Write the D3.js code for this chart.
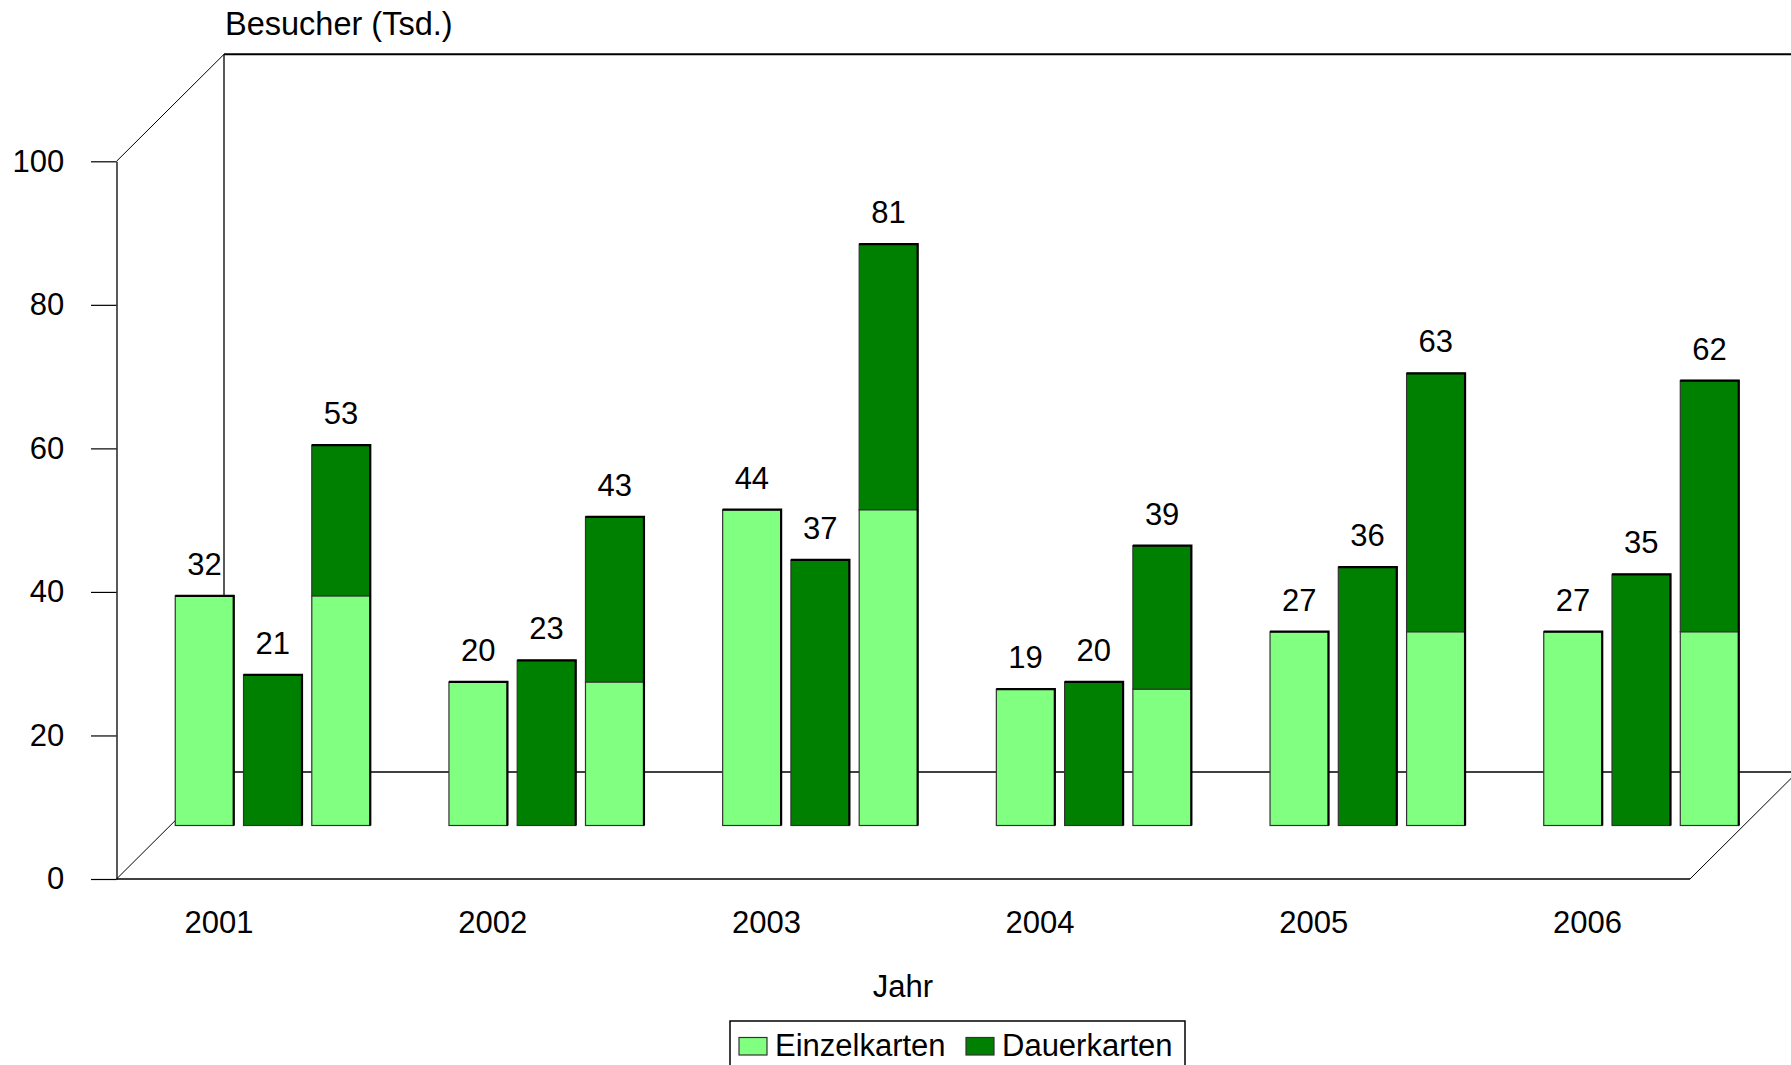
<!DOCTYPE html>
<html>
<head>
<meta charset="utf-8">
<script src="https://cdn.jsdelivr.net/npm/d3@7"></script>
<style>
  html, body { margin: 0; padding: 0; background: #fff; overflow: hidden; }
  svg text { font-family: "Liberation Sans", Arial, sans-serif; fill: #000; }
</style>
</head>
<body>
<svg id="chart" width="1791" height="1065"></svg>
<script>
// Besucher je Jahr: Einzelkarten, Dauerkarten, und beide gestapelt.
const YEARS = ["2001", "2002", "2003", "2004", "2005", "2006"];
const EINZEL = [32, 20, 44, 19, 27, 27];
const DAUER = [21, 23, 37, 20, 36, 35];
const Y_TICKS = [0, 20, 40, 60, 80, 100];
const SERIES = ["Einzelkarten", "Dauerkarten"];
const COLORS = ["#80ff80", "#008000"];

const W = 1791, H = 1065;
const AX_X = 116.5, FLOOR_R = 1690;      // front plane, left / right
const Y0 = 879, Y100 = 161.3;            // front plane, value 0 / 100
const DX = 107.5, DY = 107;              // depth offset to the back wall
const FONT = "31px 'Liberation Sans', Arial, sans-serif";

const svg = d3.select("#chart");

const y = d3.scaleLinear().domain([0, 100]).range([Y0, Y100]);
// bars stand half way into the depth; x is measured on that middle plane
const x = d3.scaleBand().domain(YEARS)
  .range([AX_X + DX / 2 + 5, FLOOR_R + DX / 2 - 5])
  .paddingInner(0.2875);
const inner = d3.scaleBand().domain(["einzel", "dauer", "summe"])
  .range([0, x.bandwidth()]).paddingInner(0.1435);

// walls and floor
const frame = svg.append("g").attr("fill", "none").attr("stroke", "#000");
const seg = (x1, y1, x2, y2, w) => frame.append("line")
  .attr("x1", x1).attr("y1", y1).attr("x2", x2).attr("y2", y2).attr("stroke-width", w);
seg(AX_X + DX, y(100) - DY, W + 10, y(100) - DY, 2);
seg(AX_X + DX, y(100) - DY, AX_X + DX, y(0) - DY, 1.3);
seg(AX_X + DX, y(0) - DY, FLOOR_R + DX, y(0) - DY, 1.3);
seg(AX_X, y(100), AX_X + DX, y(100) - DY, 1);
seg(AX_X, y(0), AX_X + DX, y(0) - DY, 1);
seg(AX_X, y(0), FLOOR_R, y(0), 1.5);
seg(FLOOR_R, y(0), FLOOR_R + DX, y(0) - DY, 1);

// y axis on the front plane
svg.append("g").attr("transform", `translate(${AX_X},0)`)
  .call(d3.axisLeft(y).tickValues(Y_TICKS).tickSize(25.5).tickSizeOuter(0).tickPadding(26.7))
  .call((s) => s.select(".domain").attr("stroke", "#000").attr("stroke-width", 1.3))
  .call((s) => s.selectAll(".tick line").attr("stroke", "#000").attr("stroke-width", 1.2))
  .call((s) => s.selectAll("text").style("font", FONT).attr("fill", "#000"));

// bars
const rows = YEARS.map((yr, i) => ({ yr, e: EINZEL[i], d: DAUER[i], s: EINZEL[i] + DAUER[i] }));
const bars = svg.append("g").attr("transform", `translate(0,${-DY / 2})`);

const bar = (g, x0, v0, v1, fill) => {
  g.append("rect")
    .attr("x", x0).attr("y", y(v1))
    .attr("width", inner.bandwidth()).attr("height", y(v0) - y(v1))
    .attr("fill", fill).attr("stroke", "#333").attr("stroke-width", 1.2);
};
const edge = (g, x0, v1) => g.append("path")
  .attr("d", `M${x0},${y(v1)}H${x0 + inner.bandwidth()}V${y(0)}`)
  .attr("fill", "none").attr("stroke", "#000").attr("stroke-width", 2.2);

rows.forEach((r) => {
  const g = bars.append("g").attr("transform", `translate(${x(r.yr)},0)`);
  bar(g, inner("einzel"), 0, r.e, COLORS[0]);
  edge(g, inner("einzel"), r.e);
  bar(g, inner("dauer"), 0, r.d, COLORS[1]);
  edge(g, inner("dauer"), r.d);
  bar(g, inner("summe"), 0, r.e, COLORS[0]);
  bar(g, inner("summe"), r.e, r.s, COLORS[1]);
  edge(g, inner("summe"), r.s);

  [["einzel", r.e], ["dauer", r.d], ["summe", r.s]].forEach(([k, v]) => {
    g.append("text")
      .attr("x", inner(k) + inner.bandwidth() / 2).attr("y", y(v) - 21)
      .attr("text-anchor", "middle").style("font", FONT)
      .text(v);
  });
});

// year labels on the front plane
svg.append("g").selectAll("text").data(YEARS).join("text")
  .attr("x", (d) => x(d) + x.bandwidth() / 2 - DX / 2).attr("y", 933)
  .attr("text-anchor", "middle").style("font", FONT)
  .text((d) => d);

// axis titles
svg.append("text").attr("x", 225).attr("y", 35)
  .style("font", "32.5px 'Liberation Sans', Arial, sans-serif").text("Besucher (Tsd.)");
svg.append("text").attr("x", 903).attr("y", 997).attr("text-anchor", "middle")
  .style("font", FONT).text("Jahr");

// legend
const lg = svg.append("g").attr("transform", "translate(730,1021)");
lg.append("rect").attr("width", 455).attr("height", 70)
  .attr("fill", "#fff").attr("stroke", "#000").attr("stroke-width", 1.5);
const LEG_X = [9, 236];
SERIES.forEach((name, i) => {
  lg.append("rect").attr("x", LEG_X[i]).attr("y", 16.5).attr("width", 28).attr("height", 17.5)
    .attr("fill", COLORS[i]).attr("stroke", "#333").attr("stroke-width", 1.2);
  lg.append("text").attr("x", LEG_X[i] + 36).attr("y", 34.5).style("font", FONT).text(name);
});
</script>
</body>
</html>
